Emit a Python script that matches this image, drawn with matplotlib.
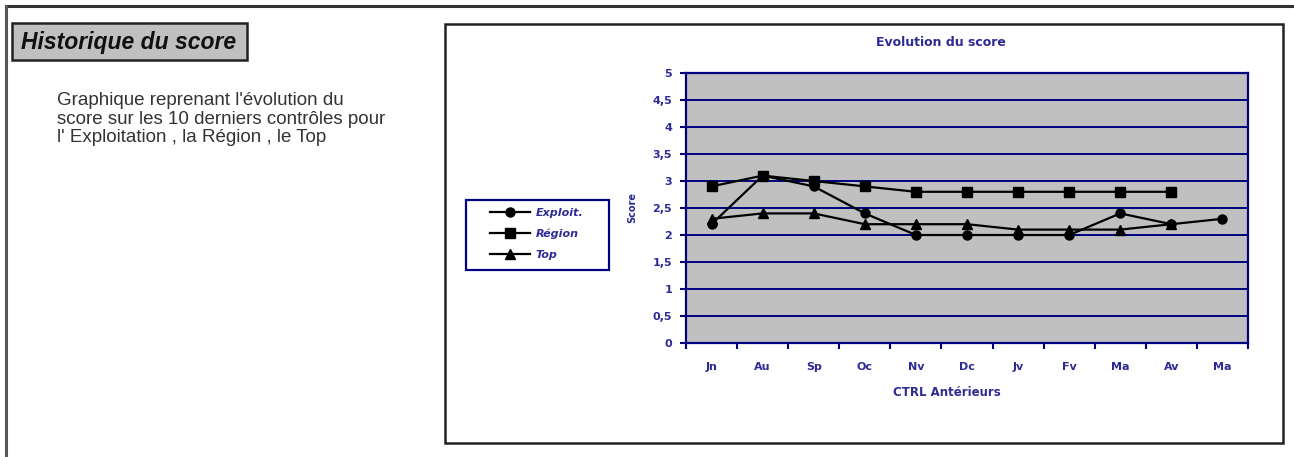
import matplotlib.pyplot as plt
import numpy as np
from matplotlib.patches import Rectangle

plt.rcParams['font.family'] = ['Liberation Sans', 'DejaVu Sans']

months = ['Jn', 'Au', 'Sp', 'Oc', 'Nv', 'Dc', 'Jv', 'Fv', 'Ma', 'Av', 'Ma']
exploit = [2.2, 3.1, 2.9, 2.4, 2.0, 2.0, 2.0, 2.0, 2.4, 2.2, 2.3]
region = [2.9, 3.1, 3.0, 2.9, 2.8, 2.8, 2.8, 2.8, 2.8, 2.8, np.nan]
top = [2.3, 2.4, 2.4, 2.2, 2.2, 2.2, 2.1, 2.1, 2.1, 2.2, np.nan]
y_ticks = np.arange(0, 5.01, 0.5)

W, H = 1294, 457
NAVY = '#000080'
LABEL = '#2e2a96'
CHART_FONT = 'DejaVu Sans'


def px_rect(x0, y0, x1, y1):
    """pixel box (top-left origin) -> figure fraction rect"""
    return [x0 / W, 1 - y1 / H, (x1 - x0) / W, (y1 - y0) / H]


def box(x0, y0, x1, y1, **kw):
    r = px_rect(x0, y0, x1, y1)
    fig.add_artist(Rectangle((r[0], r[1]), r[2], r[3], transform=fig.transFigure, **kw))


fig = plt.figure(figsize=(W / 100, H / 100), dpi=100)

# page frame
fig.add_artist(plt.Line2D([6 / W, 1], [1 - 6 / H, 1 - 6 / H], color='#333333', lw=2.2))
fig.add_artist(plt.Line2D([6 / W, 6 / W], [0, 1 - 6 / H], color='#555555', lw=2.2))

# section heading
box(12, 23, 247, 60, facecolor='#c0c0c0', edgecolor='#222222', lw=1.8)
fig.text(21 / W, 1 - 43 / H, 'Historique du score', fontsize=16.5, fontweight='bold',
         fontstyle='italic', color='#111111', va='center', ha='left')
fig.text(57 / W, 1 - 92 / H,
         "Graphique reprenant l'évolution du\nscore sur les 10 derniers contrôles pour\n"
         "l' Exploitation , la Région , le Top",
         fontsize=13.5, color='#333333', va='top', ha='left', linespacing=1.13)

# chart frame
box(445, 24, 1283, 443, facecolor='none', edgecolor='#222222', lw=1.8)

ax = fig.add_axes(px_rect(686, 73, 1248, 343))
ax.set_facecolor('#c0c0c0')
x = np.arange(len(months))
l1, = ax.plot(x, exploit, color='black', lw=1.6, marker='o', ms=6.5, label='Exploit.')
l2, = ax.plot(x, region, color='black', lw=1.6, marker='s', ms=6.5, label='Région')
l3, = ax.plot(x, top, color='black', lw=1.6, marker='^', ms=6.5, label='Top')

ax.set_xlim(-0.5, len(months) - 0.5)
ax.set_ylim(0, 5)
ax.set_yticks(y_ticks)
ax.set_yticklabels([f'{v:g}'.replace('.', ',') for v in y_ticks])
ax.set_xticks(np.arange(-0.5, len(months)), minor=False)
ax.set_xticklabels([])
ax.set_xticks(x, minor=True)
ax.set_xticklabels(months, minor=True)
ax.tick_params(axis='x', which='major', length=4, width=1.5, color=NAVY, direction='out')
ax.tick_params(axis='x', which='minor', length=0, pad=14, labelsize=8, labelcolor=LABEL)
ax.tick_params(axis='y', length=4, width=1.5, color=NAVY, labelsize=8, labelcolor=LABEL, pad=6)
for lbl in ax.get_xticklabels(minor=True) + ax.get_yticklabels():
    lbl.set_fontweight('bold')
    lbl.set_family(CHART_FONT)
ax.grid(axis='y', color=NAVY, lw=1.4)
ax.set_axisbelow(True)
for side in ['top', 'right', 'bottom', 'left']:
    ax.spines[side].set_color(NAVY)
    ax.spines[side].set_linewidth(1.6)

fig.text(941 / W, 1 - 43 / H, 'Evolution du score', fontsize=9, fontweight='bold',
         color=LABEL, family=CHART_FONT, ha='center', va='center')
fig.text(947 / W, 1 - 393 / H, 'CTRL Antérieurs', fontsize=8.5, fontweight='bold',
         color=LABEL, family=CHART_FONT, ha='center', va='center')
fig.text(632 / W, 1 - 207 / H, 'Score', fontsize=7, fontweight='bold', rotation=90,
         color=LABEL, family=CHART_FONT, ha='center', va='center')

# legend, framed separately so the padding can be set per side
box(466, 200, 609, 270, facecolor='none', edgecolor=NAVY, lw=1.6)
leg = fig.legend(handles=[l1, l2, l3], loc='center', bbox_to_anchor=(537 / W, 1 - 234 / H),
                 frameon=False, handlelength=3.6, handletextpad=0.5, labelspacing=1.0,
                 prop={'family': CHART_FONT, 'size': 8, 'weight': 'bold', 'style': 'italic'})
for t in leg.get_texts():
    t.set_color(LABEL)

fig.savefig('out.png', dpi=100)
